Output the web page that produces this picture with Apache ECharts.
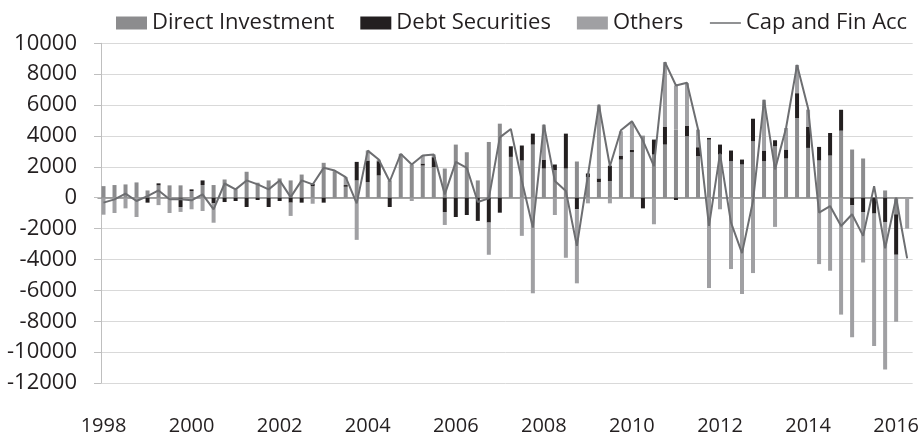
<!DOCTYPE html>
<html>
<head>
<meta charset="utf-8">
<script src="https://cdn.jsdelivr.net/npm/echarts@6/dist/echarts.min.js"></script>
<style>
html,body{margin:0;padding:0;background:#fff;}
#chart{width:922px;height:436px;}
</style>
</head>
<body>
<div id="chart"></div>
<script>
// Quarterly categories 1998 Q1 .. 2016 Q2
const years = [1998,1999,2000,2001,2002,2003,2004,2005,2006,2007,2008,2009,2010,2011,2012,2013,2014,2015,2016];
const quarters = ['Q1','Q2','Q3','Q4'];
const categories = years.flatMap(y => quarters.map(q => y + ' ' + q)).slice(0, 74);

const directInvestment = [
  750, 820, 860, 990, 470, 800, 800, 800, 430, 820,
  820, 1180, 540, 1680, 970, 1120, 1250, 1120, 1500, 750,
  2260, 1720, 710, 1120, 1010, 1440, 1120, 2840, 2150, 2085,
  1980, 1890, 3440, 2945, 1120, 3610, 4795, 2645, 2410, 3440,
  1890, 1785, 1890, 2345, 1330, 1010, 1075, 2470, 2945, 4020,
  2795, 3440, 4410, 3980, 2690, 3760, 2795, 2365, 2150, 3655,
  2365, 3330, 2540, 5160, 3225, 2410, 2730, 4340, 3120, 2540,
  0, 470, -1075, 0
];
const debtSecurities = [
  0, 0, 0, 0, -320, 130, 0, -600, 110, 300,
  -370, -280, -215, -600, -150, -600, -215, -320, -320, 150,
  -320, 0, 110, 1200, 1400, 925, -600, 0, 0, 130,
  645, -925, -1250, -1120, -1500, -1610, -970, 685, 970, 710,
  580, 365, 2260, -750, 240, 240, 1000, 260, 170, -690,
  970, 1140, -150, 690, 580, 110, 645, 690, 320, 1460,
  690, 390, 580, 1610, 1355, 880, 1460, 1355, -495, -925,
  -1030, -1570, -2620, 0
];
const others = [
  -1100, -990, -690, -1250, 0, -480, -990, -320, -750, -860,
  -1250, 0, 0, 0, 0, 0, 0, -860, 0, -390,
  0, 0, 520, -2730, 645, 100, 0, 0, -215, 520,
  170, -840, 0, 0, 0, -2085, 0, 0, -2470, -6190,
  2260, -1120, -3890, -4795, -365, 4770, -365, 1570, 1760, 0,
  -1720, 4200, 2860, 2750, 1140, -5850, -750, -4620, -6235, -4880,
  3290, -1890, 1400, 1830, 1120, -4300, -4730, -7570, -8535, -3270,
  -8580, -9550, -4340, -2000
];
const capFinAcc = [
  -320, -110, 260, -215, 100, 470, -100, -100, -170, 215,
  -750, 920, 540, 1120, 860, 540, 1120, 40, 1120, 860,
  1935, 1760, 1330, -365, 3050, 2470, 1050, 2840, 2150, 2730,
  2795, 215, 2320, 1935, -280, -40, 3910, 4450, 1100, -1935,
  4730, 1075, 430, -3120, 1440, 6020, 2040, 4365, 4945, 3700,
  2040, 8780, 7270, 7440, 4450, -1830, 2860, -1610, -3590, -215,
  6340, 1830, 4515, 8600, 5800, -970, -540, -1830, -1075, -2470,
  750, -3270, 0, -3930
];

const seriesNames = ['Direct Investment', 'Debt Securities', 'Others', 'Cap and Fin Acc'];
const colors = ['#8c8c8e', '#231f20', '#a0a0a3', '#6d6e71'];

const FONT = '"Open Sans", sans-serif';
const chart = echarts.init(document.getElementById('chart'), null, {renderer: 'canvas'});

const barSeries = (name, data, color) => ({
  name: name,
  type: 'bar',
  stack: 'total',
  xAxisIndex: 0,
  barWidth: 4,
  data: data,
  itemStyle: {color: color},
  emphasis: {disabled: true}
});

chart.setOption({
  animation: false,
  backgroundColor: '#ffffff',
  textStyle: {fontFamily: FONT},
  legend: {
    top: 6,
    left: 111,
    itemWidth: 31,
    itemHeight: 13,
    itemGap: 26,
    textStyle: {fontFamily: FONT, fontSize: 22, color: '#231f20', lineHeight: 24},
    data: [
      {name: seriesNames[0], icon: 'rect'},
      {name: seriesNames[1], icon: 'rect'},
      {name: seriesNames[2], icon: 'rect'},
      {name: seriesNames[3], itemStyle: {color: 'rgba(0,0,0,0)', borderWidth: 0}, lineStyle: {color: colors[3], width: 1.5}}
    ]
  },
  grid: {left: 98, top: 43.3, width: 816, height: 341, containLabel: false},
  xAxis: [
    {
      type: 'category',
      data: categories,
      position: 'bottom',
      axisLine: {show: true, onZero: true, lineStyle: {color: '#868686', width: 1.5}},
      axisTick: {show: false},
      axisLabel: {show: false},
      splitLine: {show: false}
    },
    {
      type: 'category',
      data: categories,
      position: 'bottom',
      axisLine: {show: false, onZero: false},
      axisTick: {show: false},
      axisLabel: {
        show: true,
        interval: 7,
        margin: 33,
        fontFamily: FONT,
        fontSize: 20,
        color: '#231f20',
        formatter: v => v.split(' ')[0]
      },
      splitLine: {show: false}
    }
  ],
  yAxis: {
    type: 'value',
    min: -12000,
    max: 10000,
    interval: 2000,
    offset: -3,
    axisLine: {show: true, lineStyle: {color: '#bfbfbf', width: 1}},
    axisTick: {show: true, length: 7, lineStyle: {color: '#bfbfbf'}},
    axisLabel: {
      margin: 24,
      fontFamily: FONT,
      fontSize: 22,
      color: '#231f20',
      formatter: v => String(v)
    },
    splitLine: {show: true, lineStyle: {color: '#d9d9d9', width: 1}}
  },
  series: [
    barSeries(seriesNames[0], directInvestment, colors[0]),
    barSeries(seriesNames[1], debtSecurities, colors[1]),
    barSeries(seriesNames[2], others, colors[2]),
    {
      name: seriesNames[3],
      type: 'line',
      xAxisIndex: 0,
      data: capFinAcc,
      symbol: 'none',
      showSymbol: false,
      z: 5,
      lineStyle: {color: colors[3], width: 2},
      itemStyle: {color: colors[3]},
      emphasis: {disabled: true}
    }
  ]
});
</script>
</body>
</html>
